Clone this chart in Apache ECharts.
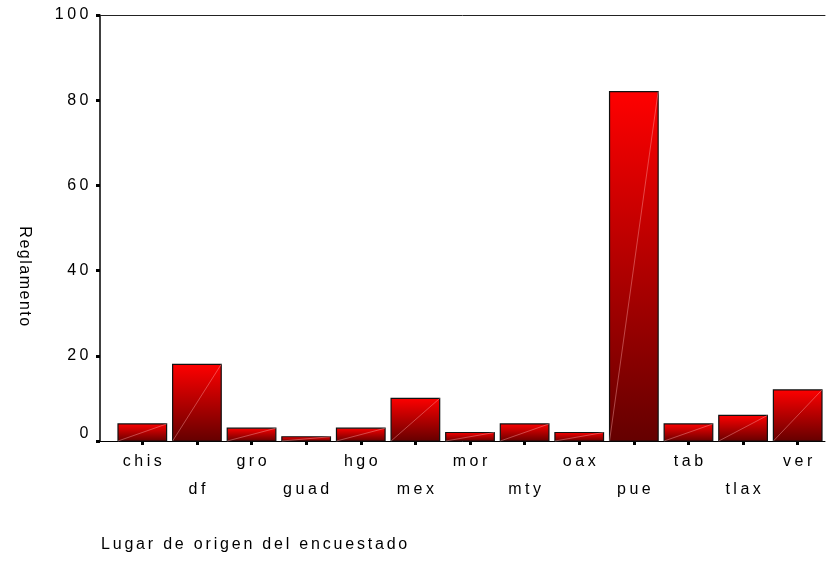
<!DOCTYPE html>
<html><head><meta charset="utf-8">
<script src="https://cdn.jsdelivr.net/npm/echarts@6/dist/echarts.min.js"></script>
<style>html,body{margin:0;padding:0;background:#fff}#c{width:833px;height:562px}</style>
</head><body><div id="c"></div>
<script>
const categories = ['chis','df','gro','guad','hgo','mex','mor','mty','oax','pue','tab','tlax','ver'];
const values = [4,18,3,1,3,10,2,4,2,82,4,6,12];
const yMin = 0, yMax = 100, yStep = 20;
const yTitle = 'Reglamento';
const xTitle = 'Lugar de origen del encuestado';

// wide letter spacing as in the reference typography
(function(){
  const P = CanvasRenderingContext2D.prototype;
  const f = P.fillText, m = P.measureText;
  function sp(t){ return t === yTitle ? '1.5px' : (t === xTitle ? '2.8px' : '3.5px'); }
  P.fillText = function(t){ this.letterSpacing = sp(t); return f.apply(this, arguments); };
  P.measureText = function(t){ this.letterSpacing = sp(t); return m.apply(this, arguments); };
})();

const chart = echarts.init(document.getElementById('c'), null, {renderer:'canvas'});
const FONT = 'Liberation Sans, Arial, sans-serif';
chart.setOption({
  animation: false,
  textStyle: {fontFamily: FONT, color: '#000'},
  title: {text: xTitle, left: 96, top: 530, textStyle: {fontSize: 16, fontWeight: 'normal', color: '#000', fontFamily: FONT}},
  graphic: [{type: 'text', x: 24, y: 277, rotation: -Math.PI/2,
    style: {text: yTitle, fontSize: 16, fill: '#000', align: 'center', verticalAlign: 'middle', fontFamily: FONT}}],
  grid: [
    {left: 100, right: 8, top: 15, bottom: 121},
    {left: 115, right: 8, top: 15, bottom: 121}
  ],
  xAxis: [
    {gridIndex: 0, type: 'value', min: 0, max: 1, position: 'bottom',
     axisLine: {show: true, onZero: false, lineStyle: {color: '#000', width: 1}},
     axisTick: {show: false}, axisLabel: {show: false}, splitLine: {show: false}},
    {gridIndex: 0, type: 'value', min: 0, max: 1, position: 'top',
     axisLine: {show: true, onZero: false, lineStyle: {color: '#222', width: 1}},
     axisTick: {show: false}, axisLabel: {show: false}, splitLine: {show: false}},
    {gridIndex: 1, type: 'category', data: categories,
     axisLine: {show: false},
     axisTick: {show: true, alignWithLabel: true, length: 4, lineStyle: {color: '#000', width: 3}},
     axisLabel: {interval: 0, hideOverlap: false, margin: 7, fontSize: 16, lineHeight: 28, color: '#000', fontFamily: FONT,
       padding: [0, 0, 0, 3.5],
       formatter: (v, i) => (i % 2 ? '\n' + v : v)}}
  ],
  yAxis: [
    {gridIndex: 0, type: 'value', min: yMin, max: yMax, interval: yStep,
     axisLine: {show: true, onZero: false, lineStyle: {color: '#000', width: 1.5}},
     axisTick: {show: true, length: 4, lineStyle: {color: '#000', width: 3}},
     axisLabel: {fontSize: 16, color: '#000', margin: 8, fontFamily: FONT,
       formatter: v => (v === 0 ? '{z|0}' : String(v)),
       rich: {z: {fontSize: 16, fontFamily: FONT, color: '#000', padding: [0, 0, 14, 0]}}},
     splitLine: {show: false}},
    {gridIndex: 1, type: 'value', min: yMin, max: yMax, show: false, splitLine: {show: false}}
  ],
  series: [{
    type: 'custom', xAxisIndex: 2, yAxisIndex: 1,
    encode: {x: 0, y: 1},
    data: values.map((v, i) => [i, v]),
    renderItem: function(params, api) {
      const i = api.value(0), v = api.value(1);
      const top = api.coord([i, v]);
      const base = api.coord([i, 0]);
      const band = api.size([1, 0])[0];
      const w = band * 0.89;
      const x0 = top[0] - w / 2;
      const h = base[1] - top[1];
      return {type: 'group', children: [
        {type: 'rect', shape: {x: x0, y: top[1], width: w, height: h},
         style: {fill: new echarts.graphic.LinearGradient(0, 0, 0, 1, [{offset: 0, color: '#ff0000'}, {offset: 1, color: '#640000'}]),
                 stroke: '#111', lineWidth: 1.2}},
        {type: 'line', shape: {x1: x0, y1: base[1], x2: x0 + w, y2: top[1]},
         style: {stroke: 'rgba(255,170,170,0.6)', lineWidth: 0.7}}
      ]};
    }
  }]
});
</script></body></html>
